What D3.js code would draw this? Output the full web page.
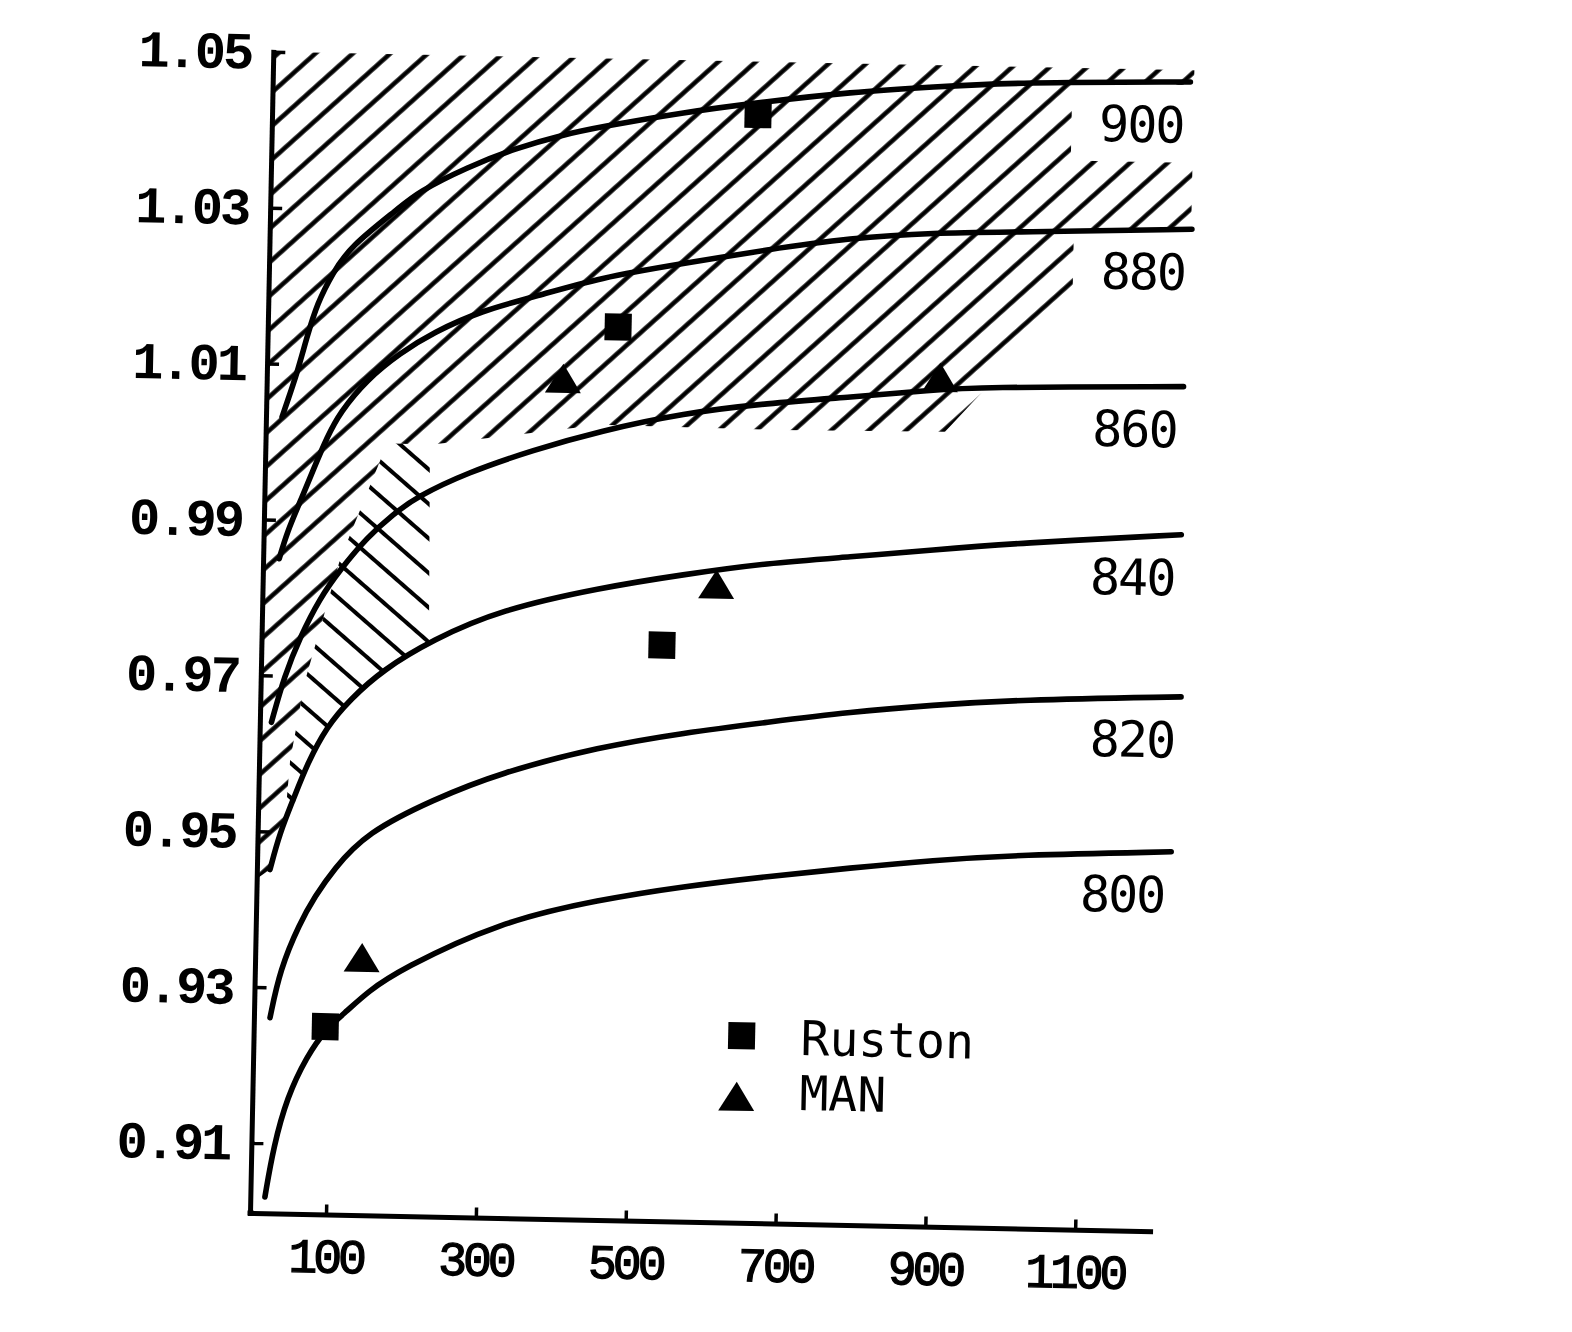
<!DOCTYPE html>
<html>
<head>
<meta charset="utf-8">
<script src="https://cdn.jsdelivr.net/npm/d3@7"></script>
<style>
  html, body { margin: 0; padding: 0; background: #fff; }
  svg { display: block; }
</style>
</head>
<body>
<script>
// ---------------- data ----------------
const xTicks = [100, 300, 500, 700, 900, 1100];
const yTicks = [0.91, 0.93, 0.95, 0.97, 0.99, 1.01, 1.03, 1.05];
const curveLabels = ["800", "820", "840", "860", "880", "900"];

const curve800 = [[18,0.9031],[28,0.9095],[45,0.9160],[70,0.9212],[94,0.9247],[123,0.9272],[150,0.9297],[192,0.9326],[324,0.9390],[457,0.9421],[568,0.9440],[680,0.9455],[790,0.9468],[900,0.9480],[1012,0.9489],[1218,0.9497]];
const curve820 = [[20,0.9261],[32,0.9323],[57,0.9383],[77,0.9418],[100,0.9452],[144,0.9501],[232,0.9545],[320,0.9581],[453,0.9617],[564,0.9637],[677,0.9653],[786,0.9668],[896,0.9679],[1008,0.9688],[1227,0.9696]];
const curve840 = [[16,0.9451],[28,0.9498],[45,0.9541],[63,0.9588],[88,0.9636],[118,0.9671],[161,0.9710],[227,0.9750],[316,0.9790],[449,0.9821],[559,0.9840],[671,0.9857],[782,0.9867],[892,0.9878],[1004,0.9889],[1223,0.9904]];
const curve860 = [[14,0.9640],[30,0.9700],[50,0.9750],[75,0.9800],[102,0.9838],[137,0.9880],[171,0.9910],[202,0.9933],[268,0.9965],[356,0.9996],[445,1.0022],[555,1.0047],[667,1.0062],[778,1.0072],[888,1.0083],[944,1.0088],[1222,1.0094]];
const curve880 = [[20,0.9850],[30,0.9885],[47,0.9925],[63,0.9965],[81,1.0008],[97,1.0039],[132,1.0082],[176,1.0117],[219,1.0144],[285,1.0174],[352,1.0192],[441,1.0219],[551,1.0239],[663,1.0259],[773,1.0276],[884,1.0285],[996,1.0288],[1229,1.0296]];
const curve900 = [[20,1.0032],[26,1.0050],[39,1.0089],[51,1.0135],[64,1.0179],[84,1.0218],[106,1.0252],[172,1.0304],[194,1.0323],[260,1.0357],[326,1.0383],[387,1.0401],[437,1.0412],[547,1.0433],[659,1.0449],[769,1.0463],[880,1.0472],[992,1.0480],[1223,1.0485]];

const rustonPts = [[94,0.9251],[466,1.0156],[533,0.9749],[647,1.0432]];
const manPts    = [[141,0.9340],[394,1.0088],[604,0.9828],[897,1.0099]];
const legendLabels = ["Ruston", "MAN"];

// hatched zones (outline in data units)
const hatchFwd = [[0,1.05],[1228,1.05],[1228,1.0296],[1148,1.0290],[905,1.0030],[685,1.0028],[445,1.0030],[218,1.0000],[161,1.0001],[101,0.9850],[58,0.9695],[40,0.9592],[35,0.9520],[16,0.9451],[0,0.9440]];
const hatchBack = [[161,1.0001],[218,1.0000],[222,0.9748],[161,0.9710],[118,0.9671],[88,0.9636],[63,0.9588],[45,0.9541],[35,0.9520],[40,0.9592],[58,0.9695],[101,0.9850]];

// ---------------- drawing ----------------
const W = 1572, H = 1332;
const ox = 250, oy = 1213;
const svg = d3.select("body").append("svg")
  .attr("width", W).attr("height", H)
  .style("background", "#fff");
svg.append("rect").attr("width", W).attr("height", H).attr("fill", "#fff");

const x = d3.scaleLinear().domain([0, 1200]).range([251.1, 251.1 + 0.7493 * 1200]);
const y = d3.scaleLinear().domain([0.901, 1.05]).range([1213, 51.6]);

const defs = svg.append("defs");
function hatchPattern(id, angle, gap, width) {
  const p = defs.append("pattern").attr("id", id)
    .attr("patternUnits", "userSpaceOnUse")
    .attr("width", 60).attr("height", gap)
    .attr("patternTransform", `rotate(${angle})`);
  p.append("line").attr("x1", -5).attr("x2", 65)
    .attr("y1", gap / 2).attr("y2", gap / 2)
    .attr("stroke", "#000").attr("stroke-width", width);
}
hatchPattern("hFwd", -43, 25, 4.4);
hatchPattern("hBack", 40, 26, 4.0);

const g = svg.append("g").attr("transform", `rotate(1.15, ${ox}, ${oy})`);

const area = d3.line().x(d => x(d[0])).y(d => y(d[1]));
g.append("path").attr("d", area(hatchFwd) + "Z").attr("fill", "url(#hFwd)");
g.append("path").attr("d", area(hatchBack) + "Z").attr("fill", "url(#hBack)");

const curves = [curve800, curve820, curve840, curve860, curve880, curve900];

// white boxes behind curve labels
curves.forEach((c, i) => {
  const last = c[c.length - 1];
  const tx = x(last[0]) - 6, ty = y(last[1]) + 61;
  g.append("rect")
    .attr("x", tx - 112).attr("y", ty - 58)
    .attr("width", 140).attr("height", 78)
    .attr("fill", "#fff");
});

// axes
const yAxis = d3.axisLeft(y).tickValues(yTicks).tickSize(-12).tickSizeOuter(0)
  .tickPadding(22).tickFormat(d3.format(".2f"));
const xAxis = d3.axisBottom(x).tickValues(xTicks).tickSize(-10).tickSizeOuter(0)
  .tickPadding(24).tickFormat(d3.format("d"));

const gy = g.append("g").attr("transform", `translate(${ox},0)`).call(yAxis);
const gx = g.append("g").attr("transform", `translate(0,${oy})`).call(xAxis);
[gy, gx].forEach(a => {
  a.select(".domain").attr("stroke", "#000").attr("stroke-width", 5).attr("stroke-linecap", "square");
  a.selectAll(".tick line").attr("stroke", "#000").attr("stroke-width", 3.5);
});
gy.selectAll(".tick text")
  .attr("font-family", "'Liberation Mono', 'DejaVu Sans Mono', monospace")
  .attr("font-size", 52).attr("font-weight", "bold")
  .attr("letter-spacing", -3).attr("fill", "#000");
gx.selectAll(".tick text")
  .attr("font-family", "'Liberation Mono', 'DejaVu Sans Mono', monospace")
  .attr("font-size", 48)
  .attr("stroke", "#000").attr("stroke-width", 1.3)
  .attr("letter-spacing", -4).attr("fill", "#000");
// close the corner
g.append("line").attr("x1", ox).attr("x2", x(0)).attr("y1", oy).attr("y2", oy)
  .attr("stroke", "#000").attr("stroke-width", 5).attr("stroke-linecap", "square");

// curves
const line = d3.line().x(d => x(d[0])).y(d => y(d[1])).curve(d3.curveBasis);
curves.forEach(c => {
  g.append("path").attr("d", line(c))
    .attr("fill", "none").attr("stroke", "#000")
    .attr("stroke-width", 5.6).attr("stroke-linecap", "round");
});

// curve labels
curves.forEach((c, i) => {
  const last = c[c.length - 1];
  g.append("text")
    .attr("x", x(last[0]) - 6).attr("y", y(last[1]) + 61)
    .attr("text-anchor", "end")
    .attr("font-family", "'DejaVu Sans Mono', monospace")
    .attr("font-size", 50).attr("letter-spacing", -2)
    .attr("fill", "#000")
    .text(curveLabels[i]);
});

// markers
const sq = 27;
g.selectAll("rect.ruston").data(rustonPts).join("rect").attr("class", "ruston")
  .attr("x", d => x(d[0]) - sq / 2).attr("y", d => y(d[1]) - sq / 2)
  .attr("width", sq).attr("height", sq).attr("fill", "#000");
const tri = "M0,-15L18,14L-18,14Z";
g.selectAll("path.man").data(manPts).join("path").attr("class", "man")
  .attr("d", tri)
  .attr("transform", d => `translate(${x(d[0])},${y(d[1])})`)
  .attr("fill", "#000");

// legend
const lg = g.append("g").attr("transform", "translate(738,1026)");
lg.append("rect").attr("x", -sq / 2).attr("y", -sq / 2).attr("width", sq).attr("height", sq).attr("fill", "#000");
lg.append("path").attr("d", tri).attr("transform", "translate(-4,61)").attr("fill", "#000");
lg.selectAll("text").data(legendLabels).join("text")
  .attr("x", 59).attr("y", (d, i) => 18 + i * 55)
  .attr("font-family", "'DejaVu Sans Mono', monospace")
  .attr("font-size", 48).attr("fill", "#000")
  .text(d => d);
</script>
</body>
</html>
